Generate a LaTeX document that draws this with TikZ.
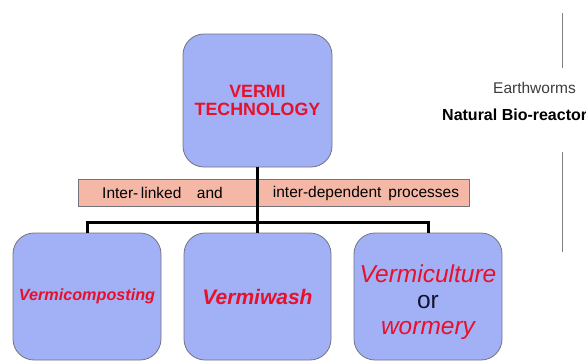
\documentclass[tikz,border=0pt]{standalone}
\usepackage{fontspec}
\setmainfont{Liberation Sans}
\definecolor{boxfill}{RGB}{162,176,246}
\definecolor{boxdraw}{RGB}{115,115,125}
\definecolor{barfill}{RGB}{246,184,166}
\definecolor{vred}{RGB}{232,16,42}
\definecolor{vnavy}{RGB}{20,20,50}
\definecolor{grayline}{RGB}{130,130,130}
\begin{document}
\begin{tikzpicture}[x=1pt,y=-1pt,
  vbox/.style={draw=boxdraw, line width=0.8pt, fill=boxfill, rounded corners=21pt, inner sep=0pt, align=center},
  bar/.style={draw=boxdraw, line width=0.8pt, fill=barfill, inner sep=0pt},
  conn/.style={line width=3pt, black},
  side/.style={line width=0.9pt, grayline},
]
\useasboundingbox (0,0) rectangle (586,362);
\node[vbox, minimum width=149pt, minimum height=133pt, text=vred,
      font=\fontsize{17.8}{17.5}\selectfont\bfseries] (top) at (257.5,100.5) {VERMI\\TECHNOLOGY};
\node[bar, minimum width=391pt, minimum height=27pt] (bar) at (273.5,192.5) {};
\node[font=\fontsize{15.5}{15.5}\selectfont, inner sep=0pt] (t1) at (162.5,193) {Inter-\,linked\hspace{1em}and};
\node[font=\fontsize{15.5}{15.5}\selectfont, inner sep=0pt] (t2) at (366,193) {inter-dependent\hspace{0.45em}processes};
\node[vbox, minimum width=148pt, minimum height=127pt, text=vred,
      font=\fontsize{16.2}{16.2}\selectfont\bfseries\itshape] (b1) at (87,296.5) {Vermicomposting};
\node[vbox, minimum width=147pt, minimum height=127pt, text=vred,
      font=\fontsize{21}{21}\selectfont\bfseries\itshape] (b2) at (257.5,296.5) {Vermiwash};
\node[vbox, minimum width=148pt, minimum height=127pt,
      font=\fontsize{24.5}{26}\selectfont] (b3) at (428,296.5) {\rule{0pt}{30pt}\textcolor{vred}{\itshape Vermiculture}\\\textcolor{vnavy}{or}\\\textcolor{vred}{\itshape wormery}};
\coordinate (j) at (257.5,222);
\draw[conn] (top.south) -- (b2.north);
\draw[conn] (b1.north) |- (j) -| (b3.north);
% right side
\coordinate (s1) at (562,13);
\coordinate (s2) at (562,68);
\coordinate (s3) at (562,152);
\coordinate (s4) at (562,252);
\draw[side] (s1) -- (s2);
\draw[side] (s3) -- (s4);
\node[font=\fontsize{15.5}{15.5}\selectfont, text={rgb,255:red,60;green,60;blue,60}, inner sep=0pt] (ew) at (534.5,88) {Earthworms};
\node[font=\fontsize{16}{16}\selectfont\bfseries, anchor=west, inner sep=0pt] (nb) at (442,115) {Natural Bio-reactor};
\end{tikzpicture}
\end{document}
